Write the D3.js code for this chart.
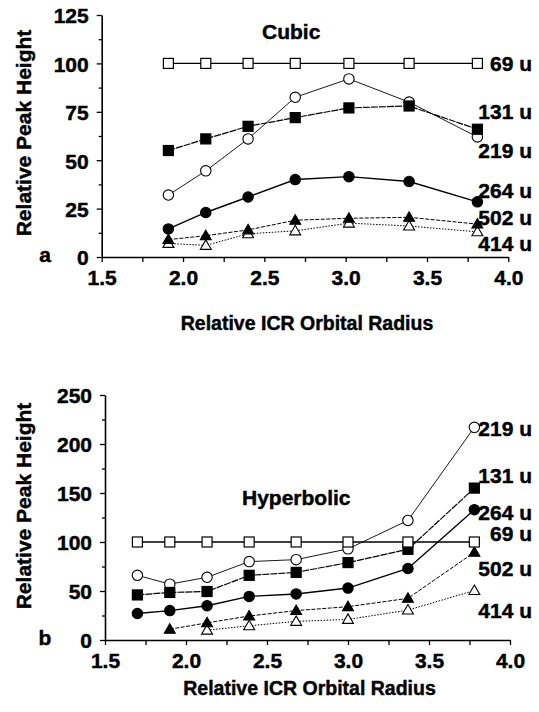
<!DOCTYPE html>
<html>
<head>
<meta charset="utf-8">
<script src="https://cdn.jsdelivr.net/npm/d3@7"></script>
<style>
  body { margin: 0; background: #fff; }
  svg text { font-family: "Liberation Sans", Arial, sans-serif; font-weight: bold; fill: #000; stroke: #000; stroke-width: 0.45px; }
</style>
</head>
<body>
<svg id="chart" width="539" height="712"></svg>
<script>
// series names (mass of ion)
const seriesNames = ['69 u', '131 u', '219 u', '264 u', '502 u', '414 u'];

// panel a - cubic cell
const cubicRadius = [1.91, 2.14, 2.40, 2.69, 3.02, 3.39, 3.81];
const cubic69  = [100, 100, 100, 100, 100, 100, 100];
const cubic131 = [55, 61, 67.5, 72, 77, 78, 66];
const cubic219 = [32, 44.5, 61, 82.5, 92, 80, 62];
const cubic264 = [14.5, 23, 31, 40, 41.5, 39, 28.5];
const cubic502 = [9, 11, 14, 19, 20, 20.5, 17];
const cubic414 = [7, 6, 12, 13.5, 17.5, 16, 13];

// panel b - hyperbolic cell
const hypRadius = [1.70, 1.90, 2.13, 2.39, 2.68, 3.00, 3.37, 3.78];
const hyp69  = [100, 100, 100, 100, 100, 100, 100, 100];
const hyp131 = [46, 48.5, 49.5, 66, 69, 79, 92.5, 155];
const hyp219 = [66, 57, 64, 80, 82, 93, 122, 217];
const hyp264 = [27, 30, 35, 44.5, 47, 53, 73, 133];
const hyp502 = [null, 11, 17.5, 24.5, 30, 34, 42.5, 89.5];
const hyp414 = [null, null, 10, 14.5, 19, 21, 30.5, 50.5];

const xTicks = [1.5, 1.75, 2.0, 2.25, 2.5, 2.75, 3.0, 3.25, 3.5, 3.75, 4.0];
const cubicYTicks = [0, 12.5, 25, 37.5, 50, 62.5, 75, 87.5, 100, 112.5, 125];
const hypYTicks = [0, 25, 50, 75, 100, 125, 150, 175, 200, 225, 250];

// marker + line look per series
const styles = {
    '69 u':  { shape: 'square',   fill: '#fff', dash: null,  width: 1.4 },
    '131 u': { shape: 'square',   fill: '#000', dash: '7,1', width: 1.2 },
    '219 u': { shape: 'circle',   fill: '#fff', dash: null,  width: 0.9 },
    '264 u': { shape: 'circle',   fill: '#000', dash: null,  width: 1.4 },
    '502 u': { shape: 'triangle', fill: '#000', dash: '4,1.5', width: 1 },
    '414 u': { shape: 'triangle', fill: '#fff', dash: '1.5,1.5', width: 1 }
};

const svg = d3.select('#chart');

function drawPanel(opts) {
    const x = d3.scaleLinear().domain([1.5, 4.0]).range(opts.xRange);
    const y = d3.scaleLinear().domain(opts.yDomain).range(opts.yRange);
    const g = svg.append('g');

    // x axis
    const xAxis = d3.axisBottom(x)
        .tickValues(xTicks)
        .tickSize(5)
        .tickSizeOuter(0)
        .tickPadding(8)
        .tickFormat(d => (Math.abs(d * 2 - Math.round(d * 2)) < 1e-6) ? d3.format('.1f')(d) : '');
    const gx = g.append('g')
        .attr('transform', `translate(0,${opts.yRange[0]})`)
        .call(xAxis);
    gx.selectAll('text').style('font-size', '21px');

    // y axis
    const yAxis = d3.axisLeft(y)
        .tickValues(opts.yTicks)
        .tickSize(5)
        .tickSizeOuter(0)
        .tickPadding(8)
        .tickFormat(d => (d % opts.yLabelStep === 0) ? d : '');
    const gy = g.append('g')
        .attr('transform', `translate(${opts.xRange[0]},0)`)
        .call(yAxis);
    gy.selectAll('text').style('font-size', '21px').attr('dy', '0.38em');
    gy.selectAll('.tick line').attr('x2', d => (d % opts.yLabelStep === 0) ? -5 : -3);

    [gx, gy].forEach(a => {
        a.select('.domain').attr('stroke', '#000').attr('stroke-width', 1.6);
        a.selectAll('.tick line').attr('stroke', '#000').attr('stroke-width', 1.3);
    });

    // lines
    const line = d3.line()
        .defined(d => d.v != null)
        .x(d => x(d.r))
        .y(d => y(d.v));

    // draw in back-to-front order so filled markers sit on top
    const order = ['414 u', '502 u', '264 u', '219 u', '131 u', '69 u'];
    order.forEach(name => {
        const vals = opts.series[name];
        const pts = opts.radius.map((r, i) => ({ r: r, v: vals[i] })).filter(d => d.v != null);
        const st = styles[name];

        g.append('path')
            .datum(pts)
            .attr('d', line)
            .attr('fill', 'none')
            .attr('stroke', '#000')
            .attr('stroke-width', st.width)
            .attr('stroke-dasharray', st.dash);

        const m = g.selectAll(null).data(pts).enter();
        if (st.shape === 'square') {
            m.append('rect')
                .attr('x', d => x(d.r) - 5)
                .attr('y', d => y(d.v) - 5)
                .attr('width', 10).attr('height', 10)
                .attr('fill', st.fill).attr('stroke', '#000').attr('stroke-width', 1.2);
        } else if (st.shape === 'circle') {
            m.append('circle')
                .attr('cx', d => x(d.r))
                .attr('cy', d => y(d.v))
                .attr('r', 5.2)
                .attr('fill', st.fill).attr('stroke', '#000').attr('stroke-width', 1.1);
        } else {
            const tri = d3.symbol().type(d3.symbolTriangle).size(52);
            m.append('path')
                .attr('d', tri)
                .attr('transform', d => `translate(${x(d.r)},${y(d.v) + 0.8})`)
                .attr('fill', st.fill).attr('stroke', '#000').attr('stroke-width', 1.1);
        }
    });

    // series labels at right, placed in data units
    seriesNames.forEach(name => {
        g.append('text')
            .attr('x', 532)
            .attr('y', y(opts.labelAt[name]))
            .attr('dy', '0.36em')
            .attr('text-anchor', 'end')
            .style('font-size', '21px')
            .text(name);
    });

    // panel title
    g.append('text')
        .attr('x', opts.title.x)
        .attr('y', opts.title.y)
        .attr('dy', '0.36em')
        .style('font-size', '21px')
        .text(opts.title.text);

    // panel letter
    g.append('text')
        .attr('x', 45)
        .attr('y', opts.yRange[0] - 3)
        .attr('dy', '0.36em')
        .attr('text-anchor', 'middle')
        .style('font-size', '21px')
        .text(opts.letter);

    // axis titles
    g.append('text')
        .attr('x', (opts.xRange[0] + opts.xRange[1]) / 2 + 2)
        .attr('y', opts.xTitleY)
        .attr('dy', '0.36em')
        .attr('text-anchor', 'middle')
        .style('font-size', '19.5px')
        .text('Relative ICR Orbital Radius');

    g.append('text')
        .attr('transform', `translate(23,${opts.yTitleY}) rotate(-90)`)
        .attr('dy', '0.36em')
        .attr('text-anchor', 'middle')
        .style('font-size', '21px')
        .text('Relative Peak Height');
}

drawPanel({
    xRange: [101.7, 508.3],
    yRange: [257, 15],
    yDomain: [0, 125],
    yTicks: cubicYTicks,
    yLabelStep: 25,
    radius: cubicRadius,
    series: { '69 u': cubic69, '131 u': cubic131, '219 u': cubic219,
              '264 u': cubic264, '502 u': cubic502, '414 u': cubic414 },
    labelAt: { '69 u': 100, '131 u': 75, '219 u': 55, '264 u': 34.5, '502 u': 20.5, '414 u': 7 },
    title: { text: 'Cubic', x: 262, y: 31 },
    letter: 'a',
    xTitleY: 323,
    yTitleY: 133
});

drawPanel({
    xRange: [105, 510],
    yRange: [640, 395],
    yDomain: [0, 250],
    yTicks: hypYTicks,
    yLabelStep: 50,
    radius: hypRadius,
    series: { '69 u': hyp69, '131 u': hyp131, '219 u': hyp219,
              '264 u': hyp264, '502 u': hyp502, '414 u': hyp414 },
    labelAt: { '69 u': 109, '131 u': 168, '219 u': 216, '264 u': 130.5, '502 u': 73.5, '414 u': 30.5 },
    title: { text: 'Hyperbolic', x: 242, y: 497 },
    letter: 'b',
    xTitleY: 688,
    yTitleY: 506
});
</script>
</body>
</html>
